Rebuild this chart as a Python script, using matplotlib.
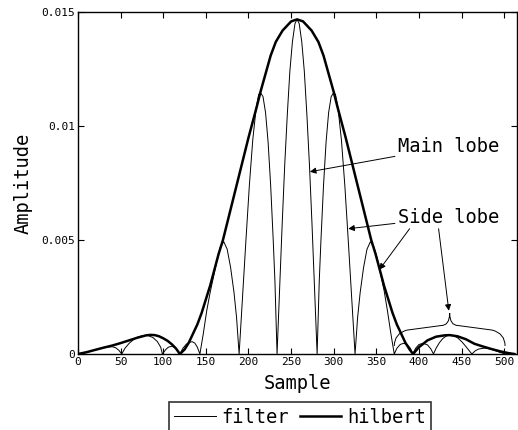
import numpy as np
import matplotlib
matplotlib.use("Agg")
import matplotlib.pyplot as plt
from matplotlib.path import Path
from matplotlib.patches import PathPatch

plt.rcParams['font.family'] = ['DejaVu Sans Mono']

# filter output (abs value)
filter_x = [0, 10, 20, 30, 36, 40, 44, 48, 51.3,
            55, 60, 65, 70, 75, 79, 83, 88, 93, 97, 99,
            103, 106, 110, 114, 117, 119.5,
            123, 127, 131, 134, 137, 140, 143,
            147, 151, 155, 159, 163, 167, 171, 175, 179, 183, 186, 189,
            193, 197, 201, 205, 209, 212, 214.3, 217, 220, 223, 226, 229, 231, 233.5,
            236.5, 239.5, 242.5, 245.5, 248.5, 251.5, 254.5, 257,
            259.5, 262.5, 265.5, 268.5, 271.5, 274.5, 277.5, 280.5,
            283, 285, 288, 291, 294, 297, 299.7, 302, 305, 309, 313, 317, 321, 325,
            328, 331, 335, 339, 343, 347, 351, 355, 359, 363, 367, 371,
            374, 378, 382, 386, 390, 392.6,
            396, 400, 405, 410, 414, 417,
            420, 424, 428, 432, 436, 440, 445, 450, 455, 459, 462,
            466, 470, 477, 484, 490, 496, 501, 506, 512]
filter_y = [0, 0.00008, 0.00018, 0.00027, 0.00031, 0.00032, 0.00028, 0.00016, 0,
            0.00025, 0.00047, 0.00063, 0.00074, 0.00080, 0.00082, 0.00080, 0.00072, 0.00055, 0.00030, 0,
            0.00020, 0.00030, 0.00034, 0.00028, 0.00014, 0,
            0.00025, 0.00043, 0.00052, 0.00054, 0.00048, 0.00030, 0,
            0.0009, 0.0019, 0.0027, 0.0034, 0.0041, 0.0047, 0.00493, 0.0046, 0.0038, 0.0027, 0.0016, 0,
            0.0025, 0.0050, 0.0074, 0.0094, 0.0108, 0.0114, 0.01146, 0.0113, 0.0106, 0.0093, 0.0074, 0.0050, 0.0032, 0,
            0.0029, 0.0057, 0.0083, 0.0105, 0.0124, 0.0137, 0.0145, 0.01469,
            0.0145, 0.0137, 0.0124, 0.0105, 0.0083, 0.0057, 0.0029, 0,
            0.0032, 0.0050, 0.0074, 0.0093, 0.0106, 0.0113, 0.01146, 0.0114, 0.0108, 0.0094, 0.0074, 0.0050, 0.0025, 0,
            0.0016, 0.0027, 0.0038, 0.0046, 0.00493, 0.0047, 0.0042, 0.0035, 0.0028, 0.0019, 0.0009, 0,
            0.00025, 0.00042, 0.00047, 0.00042, 0.00025, 0,
            0.00025, 0.00042, 0.00047, 0.00040, 0.00022, 0,
            0.00025, 0.00050, 0.00068, 0.00079, 0.00083, 0.00081, 0.00072, 0.00055, 0.00033, 0.00014, 0,
            0.00014, 0.00022, 0.00026, 0.00022, 0.00014, 0.00006, 0, 0.00002, 0]

# hilbert envelope
hilbert_x = [0, 10, 20, 30, 40, 50, 60, 70, 80, 85, 90, 95, 100, 105, 110, 115, 119.5,
             125, 130, 135, 140, 145, 150, 155, 160, 165, 170, 180, 190, 200, 210, 214,
             220, 226, 232, 240, 250, 257, 264, 274, 282, 288, 294, 300, 304, 314, 324, 334,
             344, 349, 354, 359, 364, 369, 374, 379, 384, 389, 393,
             400, 410, 420, 430, 436, 445, 455, 465, 475, 485, 495, 505, 512]
hilbert_y = [0, 0.00008, 0.00018, 0.00028, 0.00037, 0.00048, 0.00060, 0.00072, 0.00082, 0.00084, 0.00083,
             0.00078, 0.00069, 0.00058, 0.00043, 0.00024, 0,
             0.0002, 0.0005, 0.0009, 0.0013, 0.0018, 0.0024, 0.0030, 0.0037, 0.0044, 0.0050, 0.0065, 0.0080,
             0.0095, 0.0109, 0.0115,
             0.0123, 0.0131, 0.0137, 0.0142, 0.0146, 0.01469, 0.0146, 0.0142, 0.0137, 0.0131, 0.0123, 0.0115,
             0.0109, 0.0095, 0.0080, 0.0065,
             0.0050, 0.0044, 0.0037, 0.0030, 0.0024, 0.0018, 0.0013, 0.0009, 0.0005, 0.0002, 0,
             0.0003, 0.0006, 0.00076, 0.00082, 0.00083, 0.00078, 0.00065, 0.00045, 0.00033, 0.00022, 0.00012,
             0.00004, 0]

xticks = [0, 50, 100, 150, 200, 250, 300, 350, 400, 450, 500]
yticks = [0, 0.005, 0.01, 0.015]
ytick_labels = ['0', '0.005', '0.01', '0.015']

fig = plt.figure(figsize=(5.18, 4.30), dpi=100)
ax = fig.add_axes([0.1506, 0.1767, 0.8475, 0.7947])

ax.plot(filter_x, filter_y, color='black', lw=0.7, label='filter')
ax.plot(hilbert_x, hilbert_y, color='black', lw=1.8, label='hilbert')

ax.set_xlim(0, 515)
ax.set_ylim(0, 0.015)
ax.set_xticks(xticks)
ax.set_yticks(yticks)
ax.set_yticklabels(ytick_labels)
ax.tick_params(direction='in', top=True, right=True, length=4, width=0.8,
               labelsize=8, pad=2)
for s in ax.spines.values():
    s.set_linewidth(1.0)

ax.set_xlabel('Sample', fontsize=13.5, labelpad=5)
ax.set_ylabel('Amplitude', fontsize=13.5, labelpad=6)

# annotations
arrow = dict(arrowstyle='-|>', color='black', lw=0.7, mutation_scale=9, shrinkA=0, shrinkB=0)
ax.annotate('Main lobe', xy=(272, 0.0080), xytext=(375, 0.0091),
            fontsize=13.5, va='center', ha='left', arrowprops=arrow)
ax.annotate('Side lobe', xy=(317, 0.0055), xytext=(375, 0.0060),
            fontsize=13.5, va='center', ha='left', arrowprops=arrow)
ax.annotate('', xy=(353.5, 0.0037), xytext=(389, 0.0055), arrowprops=arrow)
ax.annotate('', xy=(435, 0.0019), xytext=(423, 0.0055), arrowprops=arrow)

# curly brace over the right side lobes
bx0, bx1, btip = 371, 501, 436
bbase, barm, barm2, btop = 0.00035, 0.00105, 0.00125, 0.0018
verts = [(bx0, bbase), (bx0, 0.0009), (bx0 + 15, barm),
         (btip - 10, barm2), (btip, barm2), (btip, btop),
         (btip, barm2), (btip + 10, barm2),
         (bx1 - 15, barm), (bx1, 0.0009), (bx1, bbase)]
codes = [Path.MOVETO, Path.CURVE3, Path.CURVE3,
         Path.LINETO, Path.CURVE3, Path.CURVE3,
         Path.CURVE3, Path.CURVE3,
         Path.LINETO, Path.CURVE3, Path.CURVE3]
ax.add_patch(PathPatch(Path(verts, codes), fill=False, lw=0.7, color='black'))

leg = fig.legend(loc='upper center', bbox_to_anchor=(300 / 518, 1 - 402 / 430), ncol=2,
                 fontsize=13.5, frameon=True, fancybox=False, edgecolor='black',
                 handlelength=2.2, handletextpad=0.3, columnspacing=0.6, borderpad=0.3,
                 borderaxespad=0)
leg.get_frame().set_linewidth(1.2)

fig.savefig('out.png', dpi=100)
